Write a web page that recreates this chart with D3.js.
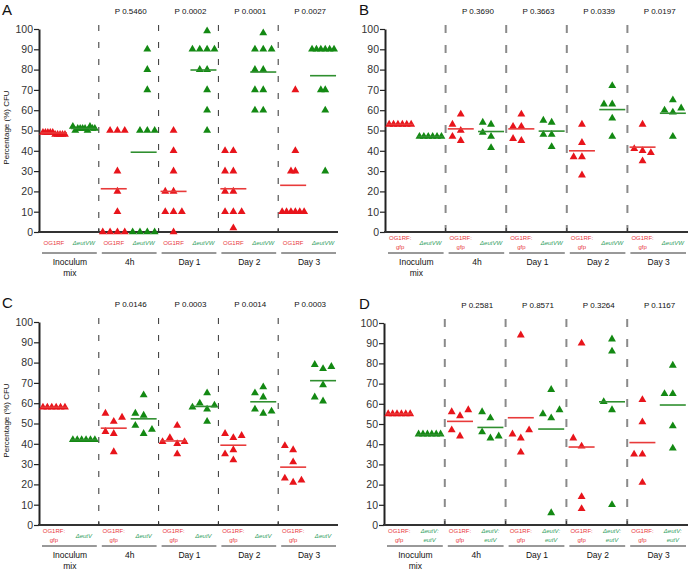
<!DOCTYPE html>
<html><head><meta charset="utf-8">
<script src="https://cdn.jsdelivr.net/npm/d3@7"></script>
<style>
body{margin:0;background:#fff}
text{font-family:Arial,"Liberation Sans",sans-serif}
</style>
</head><body>
<svg id="chart" width="696" height="574"></svg>
<script>
// ---------------- DATA ----------------
const categories = ["Inoculum mix", "4h", "Day 1", "Day 2", "Day 3"];
const yTicks = [0, 10, 20, 30, 40, 50, 60, 70, 80, 90, 100];
const yTitle = "Percentage (%) CFU";

// Panel A
const pValuesA = ["", "P 0.5460", "P 0.0002", "P 0.0001", "P 0.0027"];
const redLabelA = ["OG1RF"];
const greenLabelA = ["\u0394eutVW"];
const redA = [
  [48, 49, 48, 49, 48, 49, 48, 49, 48, 49],
  [50, 50, 50, 30, 20, 10, 0, 0, 0, 0],
  [50, 40, 30, 20, 20, 10, 10, 10, 0],
  [40, 40, 30, 30, 20, 20, 10, 10, 10, 2],
  [70, 40, 30, 30, 10, 10, 10, 10, 10, 10]
];
const greenA = [
  [51, 51, 50, 51, 52, 51, 51, 50, 51, 52],
  [90, 80, 70, 50, 50, 50, 0, 0, 0, 0],
  [99, 90, 90, 90, 90, 80, 80, 70, 60, 50],
  [98, 90, 90, 90, 80, 80, 70, 70, 60, 60],
  [90, 90, 90, 90, 90, 90, 70, 70, 60, 30]
];
const redMeanA = [48.8, 21.3, 20, 21.3, 23];
const greenMeanA = [51, 39.3, 79.8, 78.8, 77];

// Panel B
const pValuesB = ["", "P 0.3690", "P 0.3663", "P 0.0339", "P 0.0197"];
const redLabelB = ["OG1RF:", "gfp"];
const greenLabelB = ["\u0394eutVW"];
const redB = [
  [53, 53, 53, 53, 53, 53],
  [58, 50, 53, 45, 47],
  [58, 52, 45, 52, 46],
  [53, 44, 37, 37, 28],
  [53, 40, 35, 41, 39]
];
const greenB = [
  [47, 47, 47, 47, 47, 47],
  [53, 47, 49, 54, 41.5],
  [54, 48, 42, 48, 55],
  [72, 63, 56, 47, 63],
  [65, 59, 47, 60, 61]
];
const redMeanB = [53, 50.8, 50.8, 40, 41.8];
const greenMeanB = [47, 49.5, 49.7, 60.3, 58.5];

// Panel C
const pValuesC = ["", "P 0.0146", "P 0.0003", "P 0.0014", "P 0.0003"];
const redLabelC = ["OG1RF:", "gfp"];
const greenLabelC = ["\u0394eutV"];
const redC = [
  [58, 58, 58, 58, 58, 58],
  [51, 45, 36, 55, 53, 46],
  [49, 40, 35, 43, 41, 41],
  [43, 37, 32, 45, 44, 35],
  [37, 31, 21, 39, 23, 22]
];
const greenC = [
  [42, 42, 42, 42, 42, 42],
  [54, 45, 55, 49, 64, 47],
  [65, 57, 51, 60, 59, 58],
  [68, 63, 55, 65, 57, 56],
  [77, 69, 61, 79, 78, 63]
];
const redMeanC = [58, 47.7, 41.4, 39.3, 28.5];
const greenMeanC = [42, 52.3, 58.4, 60.7, 71.1];

// Panel D
const pValuesD = ["", "P 0.2581", "P 0.8571", "P 0.3264", "P 0.1167"];
const redLabelD = ["OG1RF:", "gfp"];
const greenLabelD = ["\u0394eutV:", "eutV"];
const redD = [
  [55, 55, 55, 55, 55, 55],
  [54, 44, 56, 57, 47],
  [94, 43, 36, 45, 47],
  [90, 39, 14, 8, 43],
  [62, 51, 35, 21, 35]
];
const greenD = [
  [45, 45, 45, 45, 45, 45],
  [53, 43, 56, 46, 44],
  [67, 53, 6, 55, 57],
  [92, 86, 57, 10, 61],
  [79, 65, 49, 38, 65]
];
const redMeanD = [55, 51.3, 53.1, 38.6, 40.8];
const greenMeanD = [44.7, 48.3, 47.5, 61, 59.4];

// ---------------- DRAWING ----------------
const svg = d3.select("#chart");
const RED = "#e8141b", GREEN = "#138913";
const RED_LINE = "#e83a3a", GREEN_LINE = "#2f8f2f";
const RED_TXT = "#e8383d", GREEN_TXT = "#2f9e5e";

function swarm(values, y, cx, step, thr, maxSpan) {
  const placed = [];
  const cands = [0, -1, 1, -2, 2, -3, 3, -4, 4, -5, 5, -6, 6];
  values.forEach(v => {
    const py = y(v);
    for (const s of cands) {
      if (!placed.some(p => p.s === s && Math.abs(p.py - py) < thr)) {
        placed.push({ v, py, s });
        break;
      }
    }
  });
  const mn = d3.min(placed, p => p.s), mx = d3.max(placed, p => p.s);
  const span = (mx - mn) * step;
  if (span > maxSpan) {
    const k = maxSpan / span, mid = (mn + mx) / 2;
    placed.forEach(p => p.px = cx + (p.s - mid) * step * k);
  } else {
    placed.forEach(p => p.px = cx + p.s * step);
  }
  return placed;
}

function drawPanel(cfg) {
  const g = svg.append("g");
  const y = d3.scaleLinear().domain([0, 100]).range([cfg.bottom, cfg.top]);
  const x = d3.scaleBand().domain(categories).range([cfg.left, cfg.right]);
  const sub = d3.scalePoint().domain(["red", "green"]).range([0, x.bandwidth()]).padding(0.5);

  // panel letter
  g.append("text").attr("x", cfg.letterX).attr("y", cfg.top - 14)
    .attr("font-size", 15).attr("fill", "#111").text(cfg.letter);

  // y-axis title
  if (cfg.title) {
    g.append("text")
      .attr("transform", `translate(9,${(cfg.top + cfg.bottom) / 2 - 3}) rotate(-90)`)
      .attr("text-anchor", "middle").attr("font-size", 8).attr("fill", "#111")
      .text(yTitle);
  }

  // dashed separators
  categories.slice(1).forEach(c => {
    g.append("line").attr("x1", x(c)).attr("x2", x(c))
      .attr("y1", cfg.top - 4).attr("y2", cfg.bottom)
      .attr("stroke", cfg.dashColor).attr("stroke-width", cfg.dashWidth)
      .attr("stroke-dasharray", cfg.dash);
  });

  // y axis
  const ya = g.append("g").attr("transform", `translate(${cfg.left},0)`)
    .call(d3.axisLeft(y).tickValues(yTicks).tickSize(5).tickSizeOuter(0).tickPadding(1));
  ya.select(".domain").attr("stroke", "#222").attr("stroke-width", 2);
  ya.selectAll(".tick line").attr("stroke", "#222").attr("stroke-width", 1.2);
  ya.selectAll(".tick text").attr("font-size", 10.5).attr("fill", "#333")
    .attr("font-family", "Arial, 'Liberation Sans', sans-serif");

  // x axis line
  g.append("line").attr("x1", cfg.left - 1).attr("x2", cfg.right)
    .attr("y1", cfg.bottom).attr("y2", cfg.bottom)
    .attr("stroke", "#333").attr("stroke-width", 2);
  categories.slice(1).forEach(c => {
    g.append("line").attr("x1", x(c)).attr("x2", x(c))
      .attr("y1", cfg.bottom - 4).attr("y2", cfg.bottom)
      .attr("stroke", "#333").attr("stroke-width", 1);
  });

  const tri = d3.symbol(d3.symbolTriangle, 27);
  const groups = [
    { key: "red", vals: cfg.red, means: cfg.redMean, col: RED, lcol: RED_LINE },
    { key: "green", vals: cfg.green, means: cfg.greenMean, col: GREEN, lcol: GREEN_LINE }
  ];
  categories.forEach((c, i) => {
    groups.forEach(gr => {
      const cx = x(c) + sub(gr.key);
      const pts = swarm(gr.vals[i], y, cx, 8.3, 10, 22);
      g.selectAll(null).data(pts).enter().append("path")
        .attr("d", tri).attr("fill", gr.col)
        .attr("transform", d => `translate(${d.px},${d.py})`);
      g.append("line").attr("x1", cx - 13).attr("x2", cx + 13)
        .attr("y1", y(gr.means[i])).attr("y2", y(gr.means[i]))
        .attr("stroke", gr.lcol).attr("stroke-width", 1.6);
    });
    // p-value
    if (cfg.p[i]) {
      g.append("text").attr("x", x(c) + x.bandwidth() / 2 + 2).attr("y", cfg.top - 15)
        .attr("text-anchor", "middle").attr("font-size", 8).attr("fill", "#111")
        .text(cfg.p[i]);
    }
    // sub labels
    [["red", cfg.redLabel, RED_TXT], ["green", cfg.greenLabel, GREEN_TXT]].forEach(([k, lines, col]) => {
      const cx = x(c) + sub(k);
      const t = g.append("text").attr("text-anchor", "middle").attr("font-size", 6)
        .attr("fill", col).attr("font-style", k === "green" ? "italic" : "normal");
      lines.forEach((ln, j) => {
        const by = lines.length === 1 ? cfg.bottom + 13 : cfg.bottom + 8 + j * 9;
        t.append("tspan").attr("x", cx).attr("y", by).text(ln);
      });
    });
    // underline
    g.append("line").attr("x1", x(c) + 3).attr("x2", x(c) + x.bandwidth() - 2)
      .attr("y1", cfg.bottom + 21).attr("y2", cfg.bottom + 21)
      .attr("stroke", "#333").attr("stroke-width", 1);
    // category label
    const words = c === "Inoculum mix" ? ["Inoculum", "mix"] : [c];
    const ct = g.append("text").attr("text-anchor", "middle").attr("font-size", 8.5).attr("fill", "#111");
    words.forEach((w, j) => {
      ct.append("tspan").attr("x", x(c) + x.bandwidth() / 2 + 1)
        .attr("y", cfg.bottom + 33 + j * 11).text(w);
    });
  });
}

drawPanel({ letter: "A", letterX: 2, title: true, left: 39, right: 338, top: 29, bottom: 232,
  dashColor: "#333", dashWidth: 1, dash: "6,11",
  p: pValuesA, red: redA, green: greenA, redMean: redMeanA, greenMean: greenMeanA,
  redLabel: redLabelA, greenLabel: greenLabelA });
drawPanel({ letter: "B", letterX: 359, title: false, left: 385, right: 688, top: 29, bottom: 232,
  dashColor: "#8a8a8a", dashWidth: 2, dash: "8,12",
  p: pValuesB, red: redB, green: greenB, redMean: redMeanB, greenMean: greenMeanB,
  redLabel: redLabelB, greenLabel: greenLabelB });
drawPanel({ letter: "C", letterX: 2, title: true, left: 39, right: 338, top: 322, bottom: 525,
  dashColor: "#333", dashWidth: 1, dash: "6,11",
  p: pValuesC, red: redC, green: greenC, redMean: redMeanC, greenMean: greenMeanC,
  redLabel: redLabelC, greenLabel: greenLabelC });
drawPanel({ letter: "D", letterX: 359, title: false, left: 384, right: 688, top: 323, bottom: 525,
  dashColor: "#8a8a8a", dashWidth: 2, dash: "8,12",
  p: pValuesD, red: redD, green: greenD, redMean: redMeanD, greenMean: greenMeanD,
  redLabel: redLabelD, greenLabel: greenLabelD });
</script>
</body></html>
